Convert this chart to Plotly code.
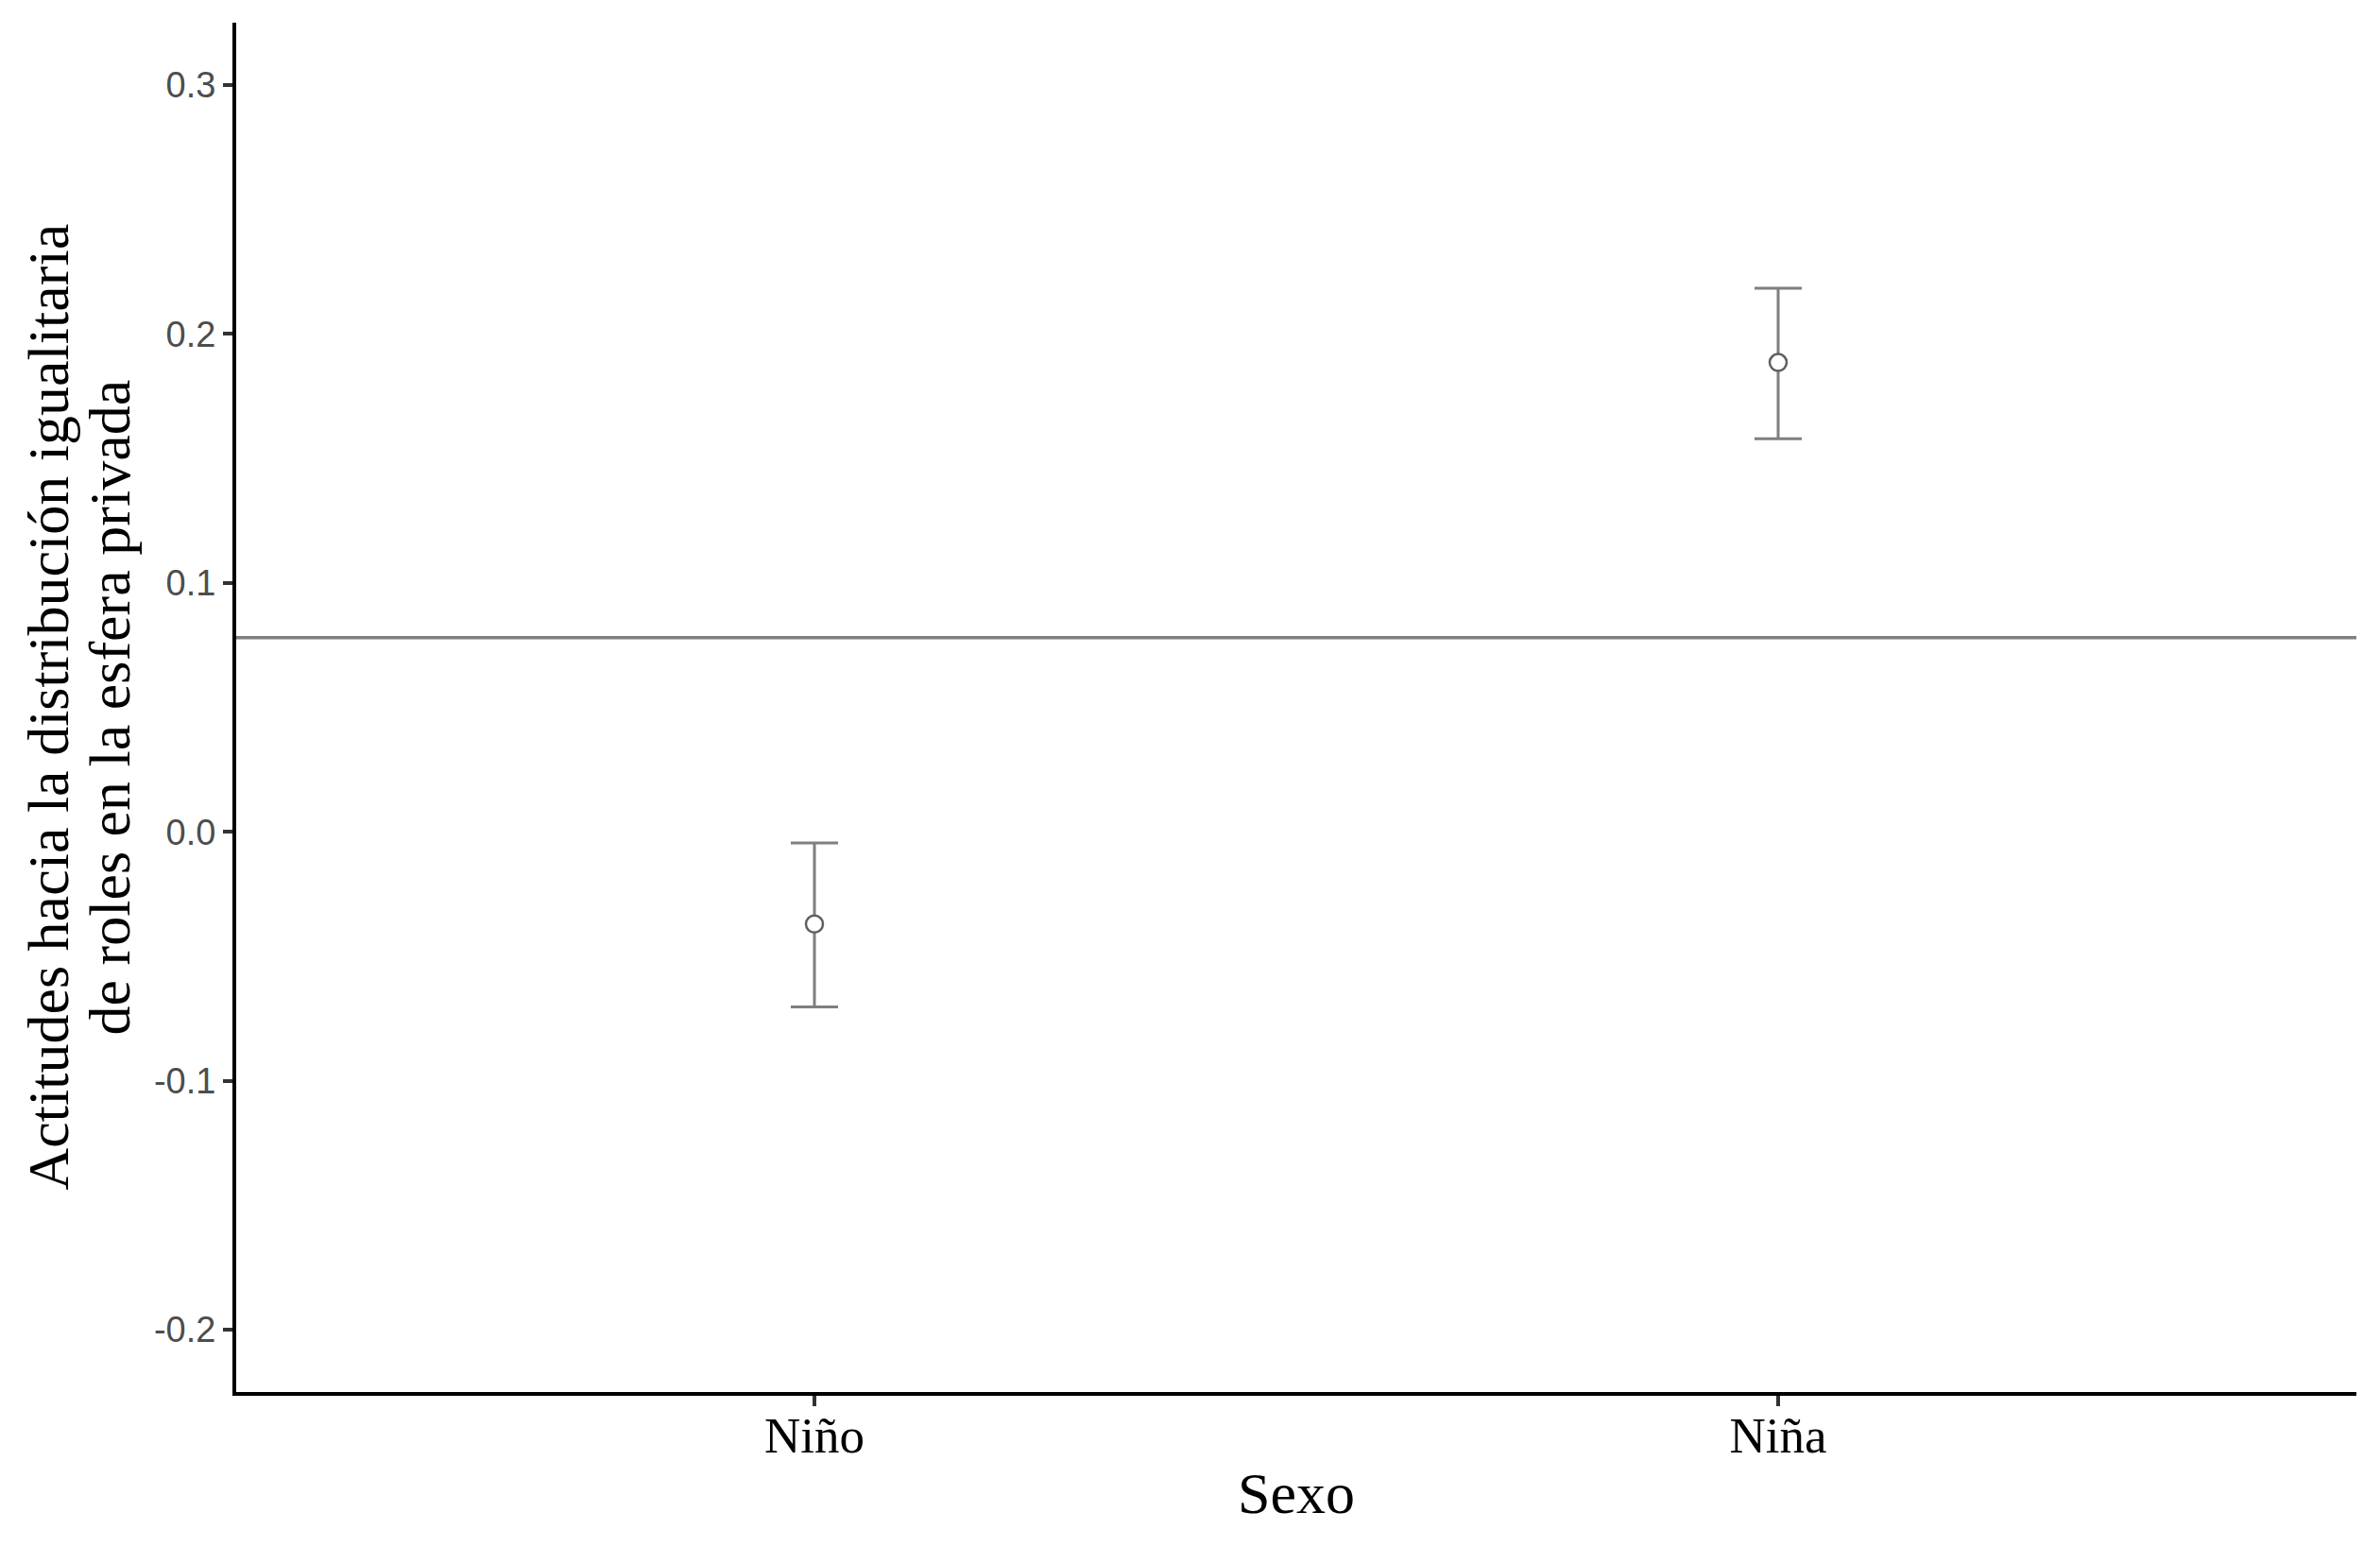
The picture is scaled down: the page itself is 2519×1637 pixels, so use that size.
import plotly.graph_objects as go

# datos
sexo = ["Niño", "Niña"]
media = [-0.037, 0.1885]
ic_sup = [-0.0045, 0.2183]
ic_inf = [-0.0703, 0.1579]
media_global = 0.078

err_mas = [s - m for s, m in zip(ic_sup, media)]
err_menos = [m - i for m, i in zip(media, ic_inf)]

y_ticks = [-0.2, -0.1, 0.0, 0.1, 0.2, 0.3]
y_ticktext = ["-0.2", "-0.1", "0.0", "0.1", "0.2", "0.3"]

titulo_y = ["Actitudes hacia la distribución igualitaria",
            "de roles en la esfera privada"]

fig = go.Figure()

fig.add_trace(go.Scatter(
    x=sexo,
    y=media,
    mode="markers",
    marker=dict(symbol="circle", size=18, color="white",
                line=dict(color="#5f5f5f", width=2.5)),
    error_y=dict(type="data", symmetric=False, array=err_mas,
                 arrayminus=err_menos, color="#7f7f7f",
                 thickness=3, width=25),
    showlegend=False,
))

fig.add_hline(y=media_global, line=dict(color="#7f7f7f", width=3.5))

# título del eje y en dos anotaciones para controlar el interlineado
for linea, desplazamiento in zip(titulo_y, [-200, -135]):
    fig.add_annotation(
        text=linea, xref="paper", yref="paper", x=0, y=0.5,
        xanchor="center", yanchor="middle", xshift=desplazamiento,
        textangle=-90, showarrow=False,
        font=dict(family="Liberation Serif", size=62, color="black"),
    )

# la página html deja 8 px de margen en body
fig.update_layout(
    width=2503,
    height=1621,
    margin=dict(l=242, r=17, t=16, b=156),
    paper_bgcolor="white",
    plot_bgcolor="white",
    font=dict(family="Liberation Serif", color="black"),
)

fig.update_xaxes(
    type="category",
    range=[-0.6, 1.6],
    showline=True, linecolor="black", linewidth=4,
    ticks="outside", ticklen=11, tickwidth=4, tickcolor="#333333",
    tickfont=dict(family="Liberation Serif", size=53, color="black"),
    ticklabelstandoff=-15,
    showgrid=False, zeroline=False,
    title=dict(text="Sexo", font=dict(family="Liberation Serif", size=62),
               standoff=12),
)

fig.update_yaxes(
    range=[-0.225, 0.325],
    tickvals=y_ticks, ticktext=y_ticktext,
    showline=True, linecolor="black", linewidth=4,
    ticks="outside", ticklen=10, tickwidth=4, tickcolor="#333333",
    tickfont=dict(family="Liberation Sans", size=38, color="#4d4d4d"),
    showgrid=False, zeroline=False,
)

fig.write_html("out.html")
